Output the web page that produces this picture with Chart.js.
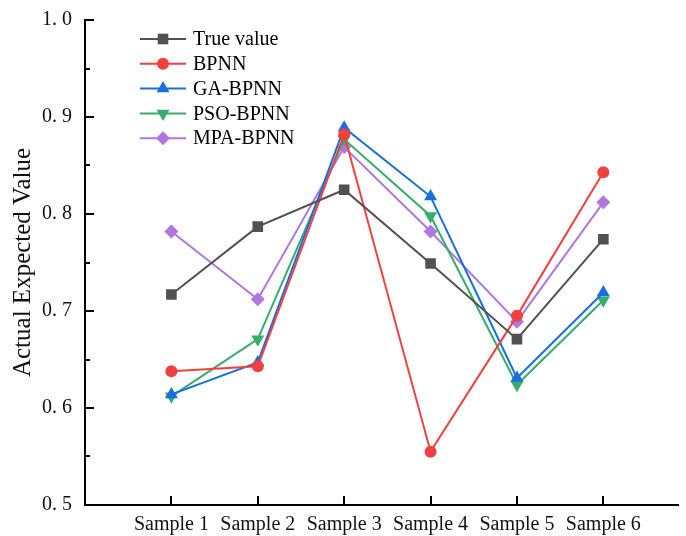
<!DOCTYPE html>
<html>
<head>
<meta charset="utf-8">
<script src="https://cdn.jsdelivr.net/npm/chart.js@4.4.1/dist/chart.umd.min.js"></script>
<style>
  html, body { margin: 0; padding: 0; background: #fff; }
  #wrap { width: 686px; height: 536px; }
</style>
</head>
<body>
<div id="wrap"><canvas id="lineChart" width="686" height="536"></canvas></div>
<script>
var categories = ["Sample 1", "Sample 2", "Sample 3", "Sample 4", "Sample 5", "Sample 6"];
var trueValue = [0.717, 0.787, 0.825, 0.749, 0.671, 0.774];
var bpnn      = [0.638, 0.643, 0.882, 0.555, 0.695, 0.843];
var gaBpnn    = [0.614, 0.647, 0.889, 0.818, 0.631, 0.719];
var psoBpnn   = [0.612, 0.671, 0.877, 0.798, 0.624, 0.711];
var mpaBpnn   = [0.782, 0.712, 0.869, 0.782, 0.689, 0.812];
var yTicks = [0.5, 0.6, 0.7, 0.8, 0.9, 1.0];

var serif = "'Liberation Serif', 'Times New Roman', serif";

function toPoints(arr) {
    return arr.map(function(v, i) { return {x: i + 1, y: v}; });
}

function series(label, values, color, style, radius, rotation) {
    return {
        label: label,
        data: toPoints(values),
        borderColor: color,
        backgroundColor: color,
        borderWidth: 2,
        pointStyle: style,
        pointRadius: radius,
        pointHoverRadius: radius,
        pointRotation: rotation || 0,
        pointBorderWidth: 0,
        pointBackgroundColor: color,
        tension: 0
    };
}

// inward ticks + minor ticks like the origin plot
var axisTicks = {
    id: 'axisTicks',
    afterDraw: function(chart) {
        var ctx = chart.ctx;
        var y = chart.scales.y, x = chart.scales.x;
        var area = chart.chartArea;
        ctx.save();
        ctx.strokeStyle = '#000';
        ctx.lineWidth = 2;
        ctx.beginPath();
        for (var i = 0; i <= 10; i++) {
            var v = 0.5 + i * 0.05;
            var py = Math.round(y.getPixelForValue(v));
            var len = (i % 2 === 0) ? 9 : 5;
            ctx.moveTo(area.left, py);
            ctx.lineTo(area.left + len, py);
        }
        categories.forEach(function(c, i) {
            var px = Math.round(x.getPixelForValue(i + 1));
            ctx.moveTo(px, area.bottom);
            ctx.lineTo(px, area.bottom - 9);
        });
        ctx.stroke();
        ctx.restore();
    }
};

// legend drawn inside plot: line + marker + label
var insideLegend = {
    id: 'insideLegend',
    afterDraw: function(chart) {
        var ctx = chart.ctx;
        ctx.save();
        chart.data.datasets.forEach(function(ds, i) {
            var yy = 39 + i * 24.8;
            ctx.strokeStyle = ds.borderColor;
            ctx.lineWidth = 2;
            ctx.beginPath();
            ctx.moveTo(140, yy);
            ctx.lineTo(186, yy);
            ctx.stroke();
            ctx.fillStyle = ds.borderColor;
            Chart.helpers.drawPoint(ctx, {
                pointStyle: ds.pointStyle,
                radius: ds.pointRadius,
                rotation: ds.pointRotation,
                borderWidth: 0
            }, 163, yy);
            ctx.fillStyle = '#000';
            ctx.font = '20px ' + serif;
            ctx.textBaseline = 'middle';
            ctx.textAlign = 'left';
            ctx.fillText(ds.label, 193, yy + 1);
        });
        ctx.restore();
    }
};

var config = {
    type: 'line',
    data: {
        datasets: [
            series("True value", trueValue, "#515151", 'rect', 7.5),
            series("BPNN", bpnn, "#F14040", 'circle', 6),
            series("GA-BPNN", gaBpnn, "#1A6FDF", 'triangle', 7.5),
            series("PSO-BPNN", psoBpnn, "#37AD6B", 'triangle', 7.5, 180),
            series("MPA-BPNN", mpaBpnn, "#B177DE", 'rectRot', 7)
        ]
    },
    options: {
        responsive: false,
        animation: false,
        layout: { padding: { top: 20, right: 0, left: 0, bottom: 0 } },
        plugins: {
            legend: { display: false },
            tooltip: { enabled: false }
        },
        scales: {
            x: {
                type: 'linear',
                min: 0,
                max: 6.87,
                grid: { display: false, drawTicks: false },
                border: { display: true, color: '#000', width: 2 },
                afterBuildTicks: function(scale) {
                    scale.ticks = categories.map(function(c, i) { return {value: i + 1}; });
                },
                afterFit: function(scale) {
                    scale.height = 31;
                    scale.paddingLeft = 0;
                    scale.paddingRight = 0;
                },
                ticks: {
                    autoSkip: false,
                    maxRotation: 0,
                    padding: 8,
                    color: '#111',
                    font: { family: serif, size: 20 },
                    callback: function(v) { return categories[v - 1]; }
                }
            },
            y: {
                min: 0.5,
                max: 1.0,
                grid: { display: false, drawTicks: false },
                border: { display: true, color: '#000', width: 2 },
                afterBuildTicks: function(scale) {
                    scale.ticks = yTicks.map(function(v) { return {value: v}; });
                },
                afterFit: function(scale) {
                    scale.width = 85;
                    scale.paddingTop = 0;
                    scale.paddingBottom = 0;
                },
                title: {
                    display: true,
                    text: 'Actual Expected Value',
                    color: '#111',
                    font: { family: serif, size: 25 },
                    padding: { top: 8, bottom: 0 }
                },
                ticks: {
                    padding: 13,
                    color: '#111',
                    font: { family: serif, size: 20 },
                    callback: function(v) { return v.toFixed(1).replace('.', '. '); }
                }
            }
        }
    },
    plugins: [axisTicks, insideLegend]
};

var ctx = document.getElementById("lineChart");
var myChart = new Chart(ctx, config);
</script>
</body>
</html>
